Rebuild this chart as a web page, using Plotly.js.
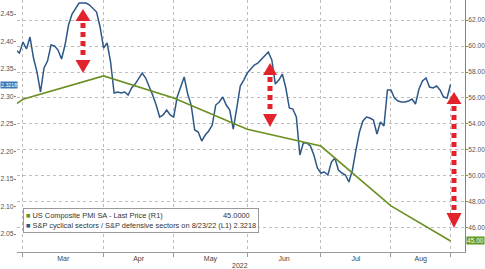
<!DOCTYPE html>
<html><head><meta charset="utf-8">
<script src="https://cdn.plot.ly/plotly-3.0.1.min.js"></script>
<style>html,body{margin:0;padding:0;background:#fff;}#chart{width:485px;height:269px;}</style>
</head><body><div id="chart"></div>
<script>
// S&P cyclical / defensive ratio (left axis, L1)
const ratioDates = [
'2022-02-24','2022-02-25','2022-02-28',
'2022-03-01','2022-03-02','2022-03-03','2022-03-04','2022-03-07','2022-03-08','2022-03-09','2022-03-10','2022-03-11',
'2022-03-14','2022-03-15','2022-03-16','2022-03-17','2022-03-18','2022-03-21','2022-03-22','2022-03-23','2022-03-24','2022-03-25',
'2022-03-28','2022-03-29','2022-03-30','2022-03-31',
'2022-04-01','2022-04-04','2022-04-05','2022-04-06','2022-04-07','2022-04-08','2022-04-11','2022-04-12','2022-04-13','2022-04-14',
'2022-04-18','2022-04-19','2022-04-20','2022-04-21','2022-04-22','2022-04-25','2022-04-26','2022-04-27','2022-04-28','2022-04-29',
'2022-05-02','2022-05-03','2022-05-04','2022-05-05','2022-05-06','2022-05-09','2022-05-10','2022-05-11','2022-05-12','2022-05-13',
'2022-05-16','2022-05-17','2022-05-18','2022-05-19','2022-05-20','2022-05-23','2022-05-24','2022-05-25','2022-05-26','2022-05-27',
'2022-05-31','2022-06-01','2022-06-02','2022-06-03','2022-06-06','2022-06-07','2022-06-08','2022-06-09','2022-06-10',
'2022-06-13','2022-06-14','2022-06-15','2022-06-16','2022-06-17','2022-06-21','2022-06-22','2022-06-23','2022-06-24',
'2022-06-27','2022-06-28','2022-06-29','2022-06-30','2022-07-01','2022-07-05','2022-07-06','2022-07-07','2022-07-08',
'2022-07-11','2022-07-12','2022-07-13','2022-07-14','2022-07-15','2022-07-18','2022-07-19','2022-07-20','2022-07-21','2022-07-22',
'2022-07-25','2022-07-26','2022-07-27','2022-07-28','2022-07-29','2022-08-01','2022-08-02','2022-08-03','2022-08-04','2022-08-05',
'2022-08-08','2022-08-09','2022-08-10','2022-08-11','2022-08-12','2022-08-15','2022-08-16','2022-08-17','2022-08-18','2022-08-19',
'2022-08-22','2022-08-23'];
const ratioValues = [
2.3845,2.3791,2.3991,
2.3864,2.4082,2.3700,2.3445,2.3082,2.3518,2.3645,2.3936,2.3918,
2.3845,2.3682,2.3936,2.4300,2.4500,2.4609,2.4700,2.4700,2.4700,2.4664,
2.4609,2.4536,2.4264,2.3882,
2.3973,2.3627,2.3064,2.3082,2.3064,2.3082,2.3027,2.3155,2.3227,2.3336,
2.3427,2.3336,2.3191,2.3027,2.2845,2.2627,2.2664,2.2755,2.2664,2.2627,
2.2991,2.3155,2.3355,2.3045,2.2845,2.2391,2.2355,2.2191,2.2300,2.2373,
2.2482,2.2845,2.2900,2.2991,2.2845,2.2755,2.2409,2.2791,2.3191,2.3300,
2.3427,2.3500,2.3573,2.3609,2.3682,2.3755,2.3809,2.3664,2.3227,
2.3300,2.3409,2.3155,2.2791,2.2773,2.2627,2.1936,2.2155,2.2155,
2.2100,2.1936,2.1700,2.1609,2.1627,2.1573,2.1809,2.1882,2.1664,
2.1609,2.1573,2.1445,2.1664,2.2027,2.2355,2.2555,2.2627,2.2609,2.2573,
2.2318,2.2536,2.2464,2.3118,2.3118,2.2973,2.2918,2.2900,2.2900,2.2918,
2.2955,2.2864,2.3136,2.3282,2.3336,2.3173,2.3155,2.3191,2.3118,2.2991,
2.2973,2.3218];

// US Composite PMI SA (right axis, R1), plotted at period end
const pmiDates = ['2022-01-31','2022-02-28','2022-03-31','2022-04-29','2022-05-31','2022-06-30','2022-07-29','2022-08-23'];
const pmiValues = [51.1, 55.9, 57.7, 56.0, 53.6, 52.3, 47.7, 45.0];

const monthLabels = ['Mar','Apr','May','Jun','Jul','Aug'];
const yearLabel = '2022';
const marketHolidays = ['2022-04-15','2022-05-30','2022-06-20','2022-07-04'];
const pmiName = 'US Composite PMI SA - Last Price (R1)';
const ratioName = 'S&P cyclical sectors / S&P defensive sectors on 8/23/22 (L1)';

const lastRatio = ratioValues[ratioValues.length-1];
const lastPmi = pmiValues[pmiValues.length-1];

// grid dates = period ends; month labels centred between them
const gridDates = pmiDates.slice(1);
const monthMids = [];
for (let i = 0; i < gridDates.length-1; i++) {
  const a = ratioDates.indexOf(gridDates[i]);
  const b = ratioDates.indexOf(gridDates[i+1]);
  const m = (a+b)/2;
  monthMids.push(Number.isInteger(m) ? ratioDates[m] : ratioDates[Math.floor(m)] + ' 12:00');
}

const BLUE = '#2d5886', GREEN = '#6b8f22', RED = '#e2232b';
const L = 17, W = 448, H = 252;
const px = x => (x - L) / W;
const py = y => 1 - y / H;

function arrow(cx, tipTop, baseTop, baseBot, tipBot, hw) {
  const p = (x, y) => px(x) + ',' + py(y);
  return [
    {type:'path', xref:'paper', yref:'paper', fillcolor:RED, line:{width:0},
     path:'M' + p(cx, tipTop) + ' L' + p(cx-hw, baseTop) + ' L' + p(cx+hw, baseTop) + ' Z'},
    {type:'line', xref:'paper', yref:'paper', x0:px(cx), x1:px(cx), y0:py(baseTop+2), y1:py(baseBot-1),
     line:{color:RED, width:5, dash:'5px,4px'}},
    {type:'path', xref:'paper', yref:'paper', fillcolor:RED, line:{width:0},
     path:'M' + p(cx, tipBot) + ' L' + p(cx-hw, baseBot) + ' L' + p(cx+hw, baseBot) + ' Z'}
  ];
}
const shapes = [].concat(
  arrow(83, 9, 21, 60, 73, 7.5),
  arrow(270, 63, 75, 114, 127, 7),
  arrow(454, 92, 104, 213, 228, 7.5)
);

const traces = [
  {x: pmiDates, y: pmiValues, yaxis:'y2', type:'scatter', mode:'lines', name: pmiName,
   line:{color:GREEN, width:1.6}, hoverinfo:'skip'},
  {x: ratioDates, y: ratioValues, yaxis:'y', type:'scatter', mode:'lines', name: ratioName,
   line:{color:BLUE, width:1.5}, hoverinfo:'skip'}
];

const FONT = 'Liberation Sans, Arial, sans-serif';
const annotations = [
  {xref:'paper', yref:'paper', x:px(23), y:py(208), xanchor:'left', yanchor:'top', align:'left',
   showarrow:false, bgcolor:'#ffffff', bordercolor:'#9a9a9a', borderwidth:1, borderpad:2,
   font:{family:FONT, size:7.4, color:'#333'},
   text:'<span style="color:'+GREEN+'">\u25A0</span> ' + pmiName + '<br><span style="color:'+BLUE+'">\u25A0</span> ' + ratioName + ' ' + lastRatio.toFixed(4)},
  {xref:'paper', yref:'paper', x:px(252), y:py(215), xanchor:'right', yanchor:'middle', showarrow:false,
   font:{family:FONT, size:7.4, color:'#333'}, text: lastPmi.toFixed(4)},
  {xref:'paper', yref:'paper', x:px(240), y:py(265), xanchor:'center', yanchor:'middle', showarrow:false,
   font:{family:FONT, size:7, color:'#444'}, text: yearLabel},
  {xref:'paper', yref:'y', x:px(17.5), y:lastRatio, xanchor:'right', yanchor:'middle', showarrow:false,
   bgcolor:'#3b77b6', borderpad:0, font:{family:FONT, size:5.3, color:'#fff'}, text:lastRatio.toFixed(4)},
  {xref:'paper', yref:'y2', x:px(466), y:lastPmi, xanchor:'left', yanchor:'middle', showarrow:false,
   bgcolor:'#5f9a1f', borderpad:0, font:{family:FONT, size:6.6, color:'#fff'}, text:lastPmi.toFixed(2)}
];

const layout = {
  width:485, height:269,
  margin:{l:L, r:485-L-W, t:0, b:269-H, pad:0},
  paper_bgcolor:'#ffffff', plot_bgcolor:'#ffffff',
  showlegend:false,
  font:{family:FONT, size:7, color:'#555'},
  xaxis:{type:'date', range:['2022-02-24 07:00','2022-08-29 03:00'],
    rangebreaks:[{bounds:['sat','mon']},{values:marketHolidays}],
    tickmode:'array', tickvals:monthMids, ticktext:monthLabels, ticks:'',
    showgrid:false, zeroline:false, showline:true, linecolor:'#9a9a9a', linewidth:1,
    tickfont:{size:7, color:'#444'},
    minor:{tickmode:'array', tickvals:gridDates, ticks:'outside', ticklen:4, tickcolor:'#9a9a9a',
      showgrid:true, gridcolor:'#bcbcbc', griddash:'dot', gridwidth:1}},
  yaxis:{range:[2.0173, 2.4755], tick0:2, dtick:0.05, tickformat:'.2f', ticks:'outside', ticklen:2,
    tickcolor:'#888', showgrid:false, zeroline:false, showline:false, ticklabelstandoff:-1,
    tickfont:{size:6.8, color:'#555'}},
  yaxis2:{overlaying:'y', side:'right', range:[44.15, 63.54], tick0:0, dtick:2, tickformat:'.2f',
    ticks:'outside', ticklen:2, tickcolor:'#7a9a2a', showline:true, linecolor:'#7a9a2a', linewidth:1,
    showgrid:true, gridcolor:'#bcbcbc', griddash:'dot', gridwidth:1, zeroline:false, ticklabelstandoff:-1,
    tickfont:{size:6.6, color:'#555'}},
  shapes: shapes,
  annotations: annotations
};

Plotly.newPlot('chart', traces, layout, {staticPlot:true, displayModeBar:false});
</script>
</body></html>
